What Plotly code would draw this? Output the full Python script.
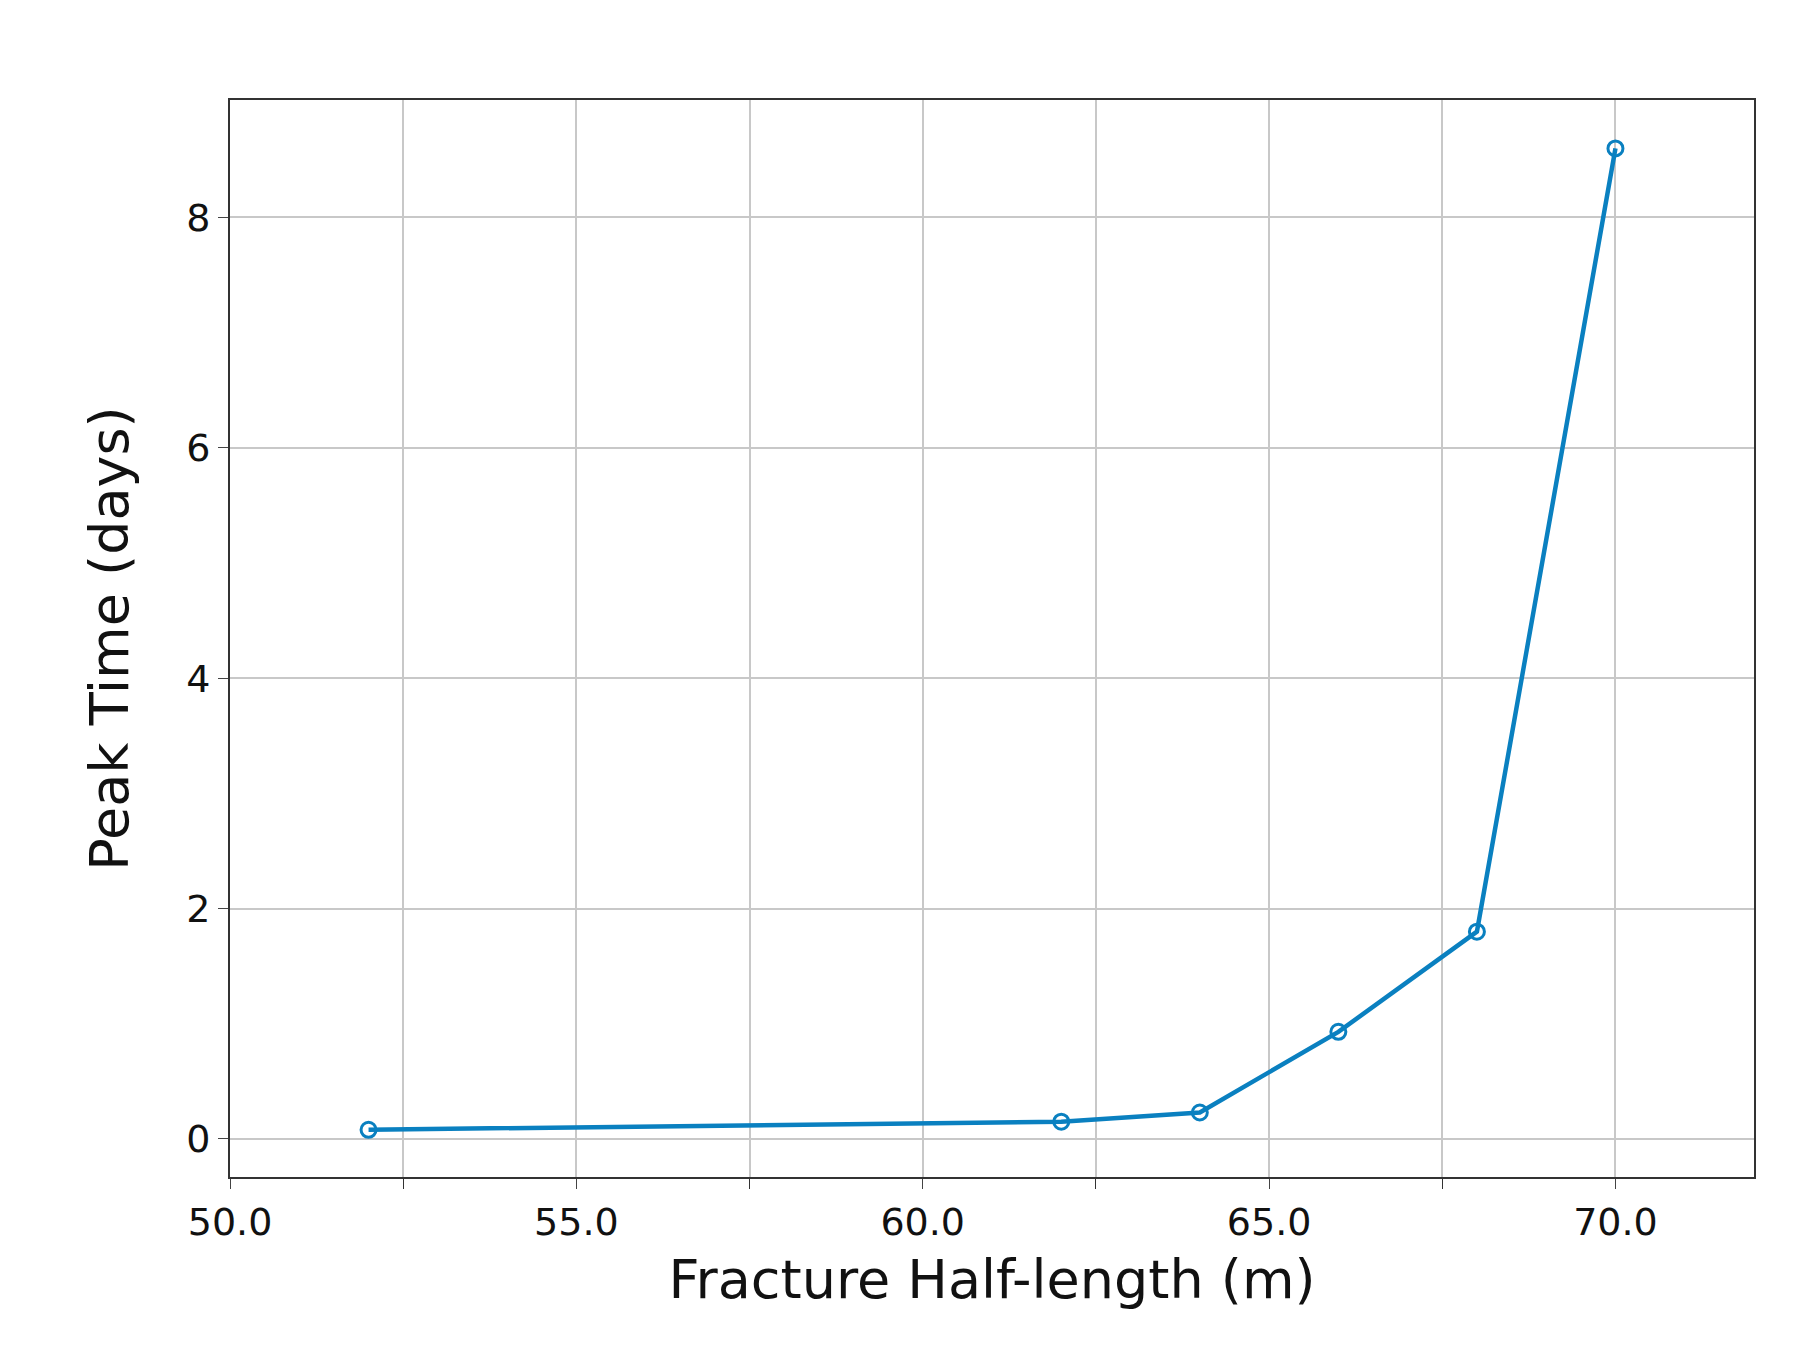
import plotly.graph_objects as go

half_length = [52, 62, 64, 66, 68, 70]
peak_time = [0.08, 0.15, 0.23, 0.93, 1.8, 8.6]
x_ticks = [50, 55, 60, 65, 70]
x_labels = ["50.0", "55.0", "60.0", "65.0", "70.0"]
y_ticks = [0, 2, 4, 6, 8]

fig = go.Figure(go.Scatter(
    x=half_length, y=peak_time, mode="lines+markers",
    line=dict(color="#0a80c0", width=4.5),
    marker=dict(symbol="circle-open", size=15, color="#0a80c0", line=dict(width=3)),
))
fig.update_layout(
    width=1814, height=1367, paper_bgcolor="white", plot_bgcolor="white",
    margin=dict(l=222, r=68, t=92, b=198), showlegend=False,
    font=dict(family="DejaVu Sans", color="#111"),
)
fig.update_xaxes(range=[50, 72], tickvals=x_ticks, ticktext=x_labels,
                 tickfont=dict(size=38), ticks="outside", ticklen=10,
                 showgrid=False, showline=True, linecolor="#333", linewidth=2, mirror=True,
                 minor=dict(dtick=2.5, tick0=50, showgrid=True, gridcolor="#c8c8c8", gridwidth=2,
                            ticks="outside", ticklen=10, tickcolor="#333"),
                 title=dict(text="Fracture Half-length (m)", font=dict(size=54), standoff=18),
                 zeroline=False)
fig.update_yaxes(range=[-0.33, 9.02], tickvals=y_ticks, tickfont=dict(size=38),
                 ticks="outside", ticklen=10, showgrid=True, gridcolor="#c8c8c8", gridwidth=2,
                 showline=True, linecolor="#333", linewidth=2, mirror=True,
                 title=dict(text="Peak Time (days)", font=dict(size=54), standoff=40),
                 zeroline=False)
fig.write_html("out.html")
